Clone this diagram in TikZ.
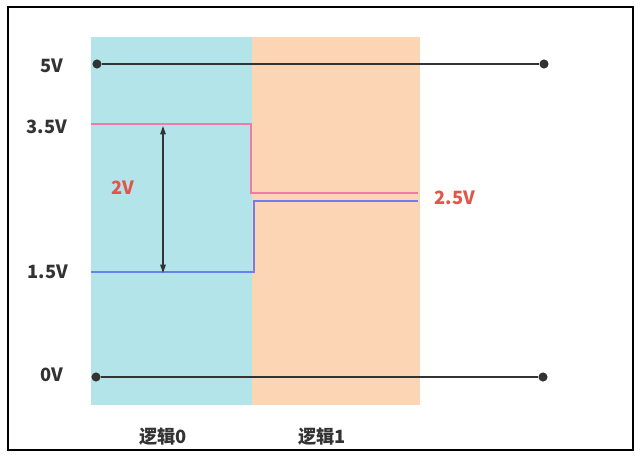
\documentclass[tikz,border=0pt]{standalone}
\usepackage{fontspec}
\setmainfont{Noto Sans CJK SC}
\usepackage{xcolor}
\usetikzlibrary{arrows.meta}

\definecolor{zonecyan}{HTML}{B2E4EA}
\definecolor{zoneorange}{HTML}{FBD5B4}
\definecolor{highpink}{HTML}{F07CA2}
\definecolor{lowblue}{HTML}{6A80EE}
\definecolor{valred}{HTML}{E0574A}
\definecolor{textgray}{HTML}{333333}

\begin{document}
\begin{tikzpicture}[
  x=0.025cm, y=-0.025cm,
  every node/.style={font=\fontsize{13}{15}\selectfont\bfseries, text=textgray},
  dot/.style={circle, fill=textgray, inner sep=0pt, minimum size=6.5pt},
  rail/.style={draw=textgray, line width=0.9pt},
  level/.style={line width=2pt},
  gap/.style={{Triangle[length=6pt,width=4pt]}-{Triangle[length=6pt,width=4pt]}, draw=textgray, line width=0.8pt},
  value/.style={text=valred},
]

\useasboundingbox (0,0) rectangle (642,460);
\draw[line width=1pt] (8,7) rectangle (633,450);

% zones
\fill[zonecyan] (91,37) rectangle (252,405);
\fill[zoneorange] (252,37) rectangle (420,405);

% supply rails
\node[dot] (top0) at (97,64) {};
\node[dot] (top1) at (544,64) {};
\node[dot] (bot0) at (96,377) {};
\node[dot] (bot1) at (543,377) {};
\draw[rail] (top0) -- (top1);
\draw[rail] (bot0) -- (bot1);

\node (v5) at (52,66) {5V};
\node (v35) at (47,127) {3.5V};
\node (v15) at (48,272) {1.5V};
\node (v0) at (52,375) {0V};

% output levels
\coordinate (hiA) at (91,124);
\coordinate (hiB) at (251,124);
\coordinate (hiC) at (251,193);
\coordinate (hiD) at (418,193);
\draw[level, highpink] (hiA) -- (hiB) -- (hiC) -- (hiD);

\coordinate (loA) at (91,272);
\coordinate (loB) at (254,272);
\coordinate (loC) at (254,201);
\coordinate (loD) at (418,201);
\draw[level, lowblue] (loA) -- (loB) -- (loC) -- (loD);

% margin
\coordinate (gapTop) at (163,126);
\coordinate (gapBot) at (163,273);
\draw[gap] (gapTop) -- (gapBot);

\node[value] (d2) at (123,188) {2V};
\node[value] (d25) at (455,198) {2.5V};

\node (zone0) at (163,437) {逻辑0};
\node (zone1) at (322,437) {逻辑1};

\end{tikzpicture}
\end{document}
